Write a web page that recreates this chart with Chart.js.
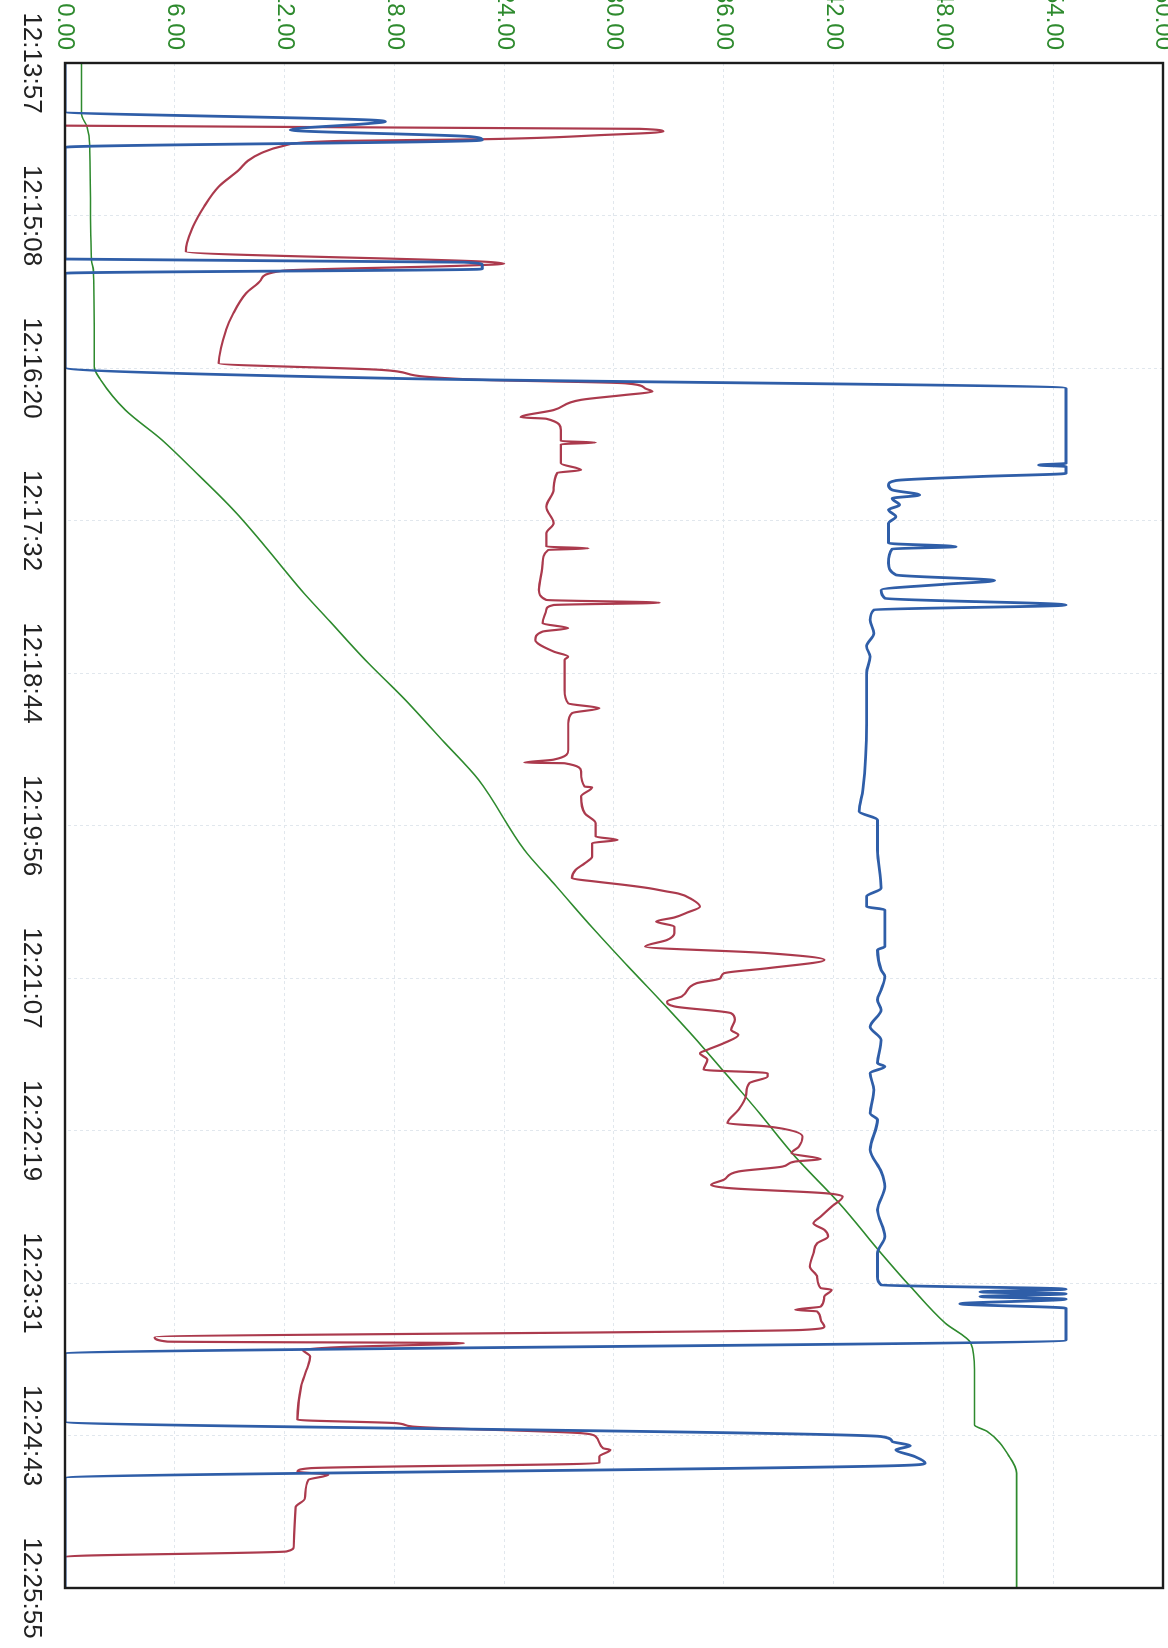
<!DOCTYPE html>
<html>
<head>
<meta charset="utf-8">
<script src="https://cdn.jsdelivr.net/npm/chart.js@4.4.1/dist/chart.umd.min.js"></script>
<style>
    html, body { margin: 0; padding: 0; background: #fff; overflow: hidden; width: 1168px; height: 1648px; }
    /* the printed chart is landscape, the page shows it turned a quarter clockwise */
    #hoja { position: absolute; left: 0; top: 0; width: 1660px; height: 1168px;
            transform-origin: 0 0; transform: translate(1168px, -12px) rotate(90deg); }
</style>
</head>
<body>
<div id="hoja"><canvas id="chart_lineas" width="1660" height="1168"></canvas></div>
<script>
// etiquetas del eje de tiempo (segundos desde 12:13:57)
var etiquetas_tiempo = ["12:13:57", "12:15:08", "12:16:20", "12:17:32", "12:18:44", "12:19:56",
                        "12:21:07", "12:22:19", "12:23:31", "12:24:43", "12:25:55"];
var duracion = 718;

// eje de valores
var valor_min = 0;
var valor_max = 60;
var valor_paso = 6;

// [segundo, valor]
var serie_azul = [
    [0, 0], [22.9, 0], [26.8, 16.6], [27.6, 17.5], [28.5, 16.6], [31.5, 12.3], [34.7, 22.2], [36.3, 22.8], [39.7, 0],
    [92.3, 0], [93.8, 21.8], [95.1, 22.8], [97, 22.8], [99, 0],
    [143.3, 0], [148.5, 18], [153.2, 54.7], [188.5, 54.7], [189.3, 53.2], [190, 54.7], [193.2, 54.7],
    [194.7, 50], [196.6, 45.4], [198.7, 45], [201, 45.2], [203.4, 46.7], [205, 45.2], [208.1, 45.6], [210.4, 45],
    [213.6, 45.4], [216.7, 45], [226.1, 45], [227.7, 48.7], [228.8, 45.2], [235.5, 45], [241, 45.4], [243.7, 50.8],
    [245.4, 48.1], [248.1, 44.6], [252, 44.8], [255.2, 54.7], [257.5, 44.2], [262.2, 44], [268.5, 44.2],
    [274.8, 43.8], [279.5, 44], [287.3, 43.8], [310.9, 43.8], [342.2, 43.6], [352.4, 43.4], [356.4, 44.4],
    [370.5, 44.4], [388.5, 44.6], [392.5, 43.8], [397.2, 43.8], [398.7, 44.8], [416, 44.8], [417.6, 44.4],
    [427, 44.6], [430.1, 44.8], [436.4, 44.6], [441.1, 44.4], [445.8, 44.6], [453.7, 44], [460, 44.6],
    [470.9, 44.4], [472.5, 44.8], [475.6, 44], [483.5, 44.2], [494.5, 44], [497.6, 44.4], [511.7, 44],
    [521.9, 44.6], [529, 44.8], [540, 44.4], [552.5, 44.8], [560.4, 44.4], [571.4, 44.4], [575.3, 44.6],
    [577.3, 54.7], [578.6, 50], [579.5, 54.7], [580.8, 50], [582, 54.7], [584.2, 48.9], [586.3, 54.7],
    [601.2, 54.7], [607.8, 0], [639.6, 0], [646.7, 44.6], [649, 45.2], [651, 46.2], [653, 45.4], [656, 46.4],
    [659.2, 47], [660.5, 45], [666.3, 0], [718, 0]
];

var serie_roja = [
    [0, 0], [29.5, 0], [31, 31.4], [32.3, 32.7], [33.9, 29.4], [35.9, 22.8], [36.7, 15], [39.1, 11.9],
    [42.5, 10.7], [46, 10.0], [50.4, 9.5], [58.2, 8.4], [67.6, 7.6], [77, 7.0], [88.8, 6.6],
    [93.5, 22.8], [94.5, 24], [95.5, 21.5], [97.8, 11.9], [102.2, 10.7], [108.4, 9.9], [117.8, 9.2],
    [125.7, 8.8], [141.4, 8.4], [144.5, 17.3], [147.7, 19.7], [149.2, 22.8], [150.8, 30.6], [153.2, 31.7],
    [154.7, 32.1], [156.3, 30.6], [158.6, 28.2], [163.4, 26.7], [166.8, 24.9], [167.5, 26.3], [172.8, 27.1],
    [178, 27.1], [178.7, 29], [179.5, 27.1], [188.5, 27.1], [191.6, 28.2], [193, 26.9], [201, 26.7],
    [208.9, 26.3], [216.7, 26.7], [221.4, 26.3], [227.7, 26.3], [228.5, 28.6], [229.3, 26.4], [235.6, 26.1],
    [248.1, 25.9], [252.8, 26.3], [254.1, 32.5], [255.2, 26.7], [257.5, 26.3], [263.8, 26.1], [266.1, 27.5],
    [267.7, 26.1], [271.6, 25.7], [277.1, 26.7], [279.5, 27.5], [281, 27.3], [295.2, 27.3], [301.5, 27.5],
    [303.8, 29.2], [306.1, 27.7], [310.9, 27.5], [323.4, 27.5], [328, 26.7], [329.4, 25.1], [329.7, 27.3],
    [333.6, 28.2], [340.7, 28.4], [341, 28.8], [345.4, 28.2], [353.2, 28.4], [357.9, 29], [364.2, 29],
    [365.8, 30.2], [367.3, 28.8], [370.5, 28.8], [373.6, 28.8], [376.8, 28.4], [379.9, 27.9], [383.8, 27.7],
    [385.4, 29], [387, 30.6], [388.5, 31.9], [390.1, 32.9], [391, 33.5], [394, 34.3], [397.2, 34.7],
    [400, 34], [402.3, 33.3], [404.2, 32.3], [406.6, 33.3], [409.7, 33.3], [412.9, 32.9], [416, 31.7],
    [419.1, 38.4], [422.3, 41.5], [426.2, 38.4], [428.6, 36], [431, 35.8], [433.3, 34.5], [439.5, 33.7],
    [441.9, 32.9], [444.2, 33.3], [447.4, 36.4], [450.5, 36.6], [455.2, 36.4], [457.6, 36.8], [461.5, 36],
    [464.6, 35.1], [466.2, 34.7], [469.3, 35.1], [474, 34.9], [475.6, 38.4], [477.2, 38.4], [480.3, 37.4],
    [486.6, 37.2], [492.9, 36.8], [499.2, 36.2], [500.7, 38.4], [505.5, 40.3], [510.2, 40.1], [513.3, 39.7],
    [516.1, 41.3], [517.2, 39.9], [519.6, 39.2], [521.9, 36.8], [525.8, 36], [528.2, 35.3], [529.8, 36.4],
    [532.1, 41.5], [533.7, 42.5], [538.4, 41.9], [543.1, 41.3], [546.3, 40.9], [549.4, 41.5], [552.5, 41.7],
    [555.7, 41.1], [560.4, 40.9], [566.7, 40.7], [571.4, 41.1], [576.8, 41.3], [577.6, 41.9], [580.7, 41.5],
    [585.5, 41.3], [587, 39.9], [587.8, 41.1], [591.8, 41.3], [594.9, 41.5], [596.5, 40.3], [599.9, 4.9],
    [602, 5.6], [602.7, 21.8], [604.6, 15], [605.9, 13], [609, 13.4], [615.3, 13.2], [623.1, 12.9],
    [638.8, 12.7], [640.4, 18.1], [642, 19], [645.1, 28.2], [646.7, 29], [652.2, 29.4], [653, 29.8],
    [656.1, 29.2], [659.2, 29.2], [661.6, 13.4], [663.2, 12.7], [664.7, 14.4], [667.1, 13.3], [676, 13.1],
    [680, 12.6], [698.5, 12.5], [700.8, 12.1], [703.2, 0], [718, 0]
];

var serie_verde = [
    [0, 0.9], [24, 0.9], [30, 1.2], [39, 1.35], [93, 1.45], [97.5, 1.55], [124, 1.6], [143, 1.6],
    [149.2, 1.95], [163.4, 3.3], [177.5, 5.3], [193.2, 7.2], [210.4, 9.2], [229.3, 11.1], [248.1, 12.9],
    [262.2, 14.4], [281, 16.4], [299.9, 18.6], [318.7, 20.6], [337.5, 22.6], [370.5, 25.1], [386.2, 26.7],
    [405, 28.6], [423.8, 30.6], [441.1, 32.5], [459.9, 34.5], [478.8, 36.4], [492.9, 37.8], [514.9, 39.9],
    [536.8, 42.3], [560.4, 44.6], [576.1, 46.2], [593.3, 48.1], [602.7, 49.5], [615.3, 49.7], [641.2, 49.7],
    [644.3, 50.4], [656.1, 51.6], [663.9, 52], [718, 52]
];

function puntos(serie) {
    return serie.map(function(p) { return { x: p[0], y: p[1] }; });
}

// recuadro negro alrededor del area del grafico
var marco = {
    id: 'marco',
    afterDraw: function(chart) {
        var a = chart.chartArea;
        var ctx = chart.ctx;
        ctx.save();
        ctx.strokeStyle = "#1c1c1c";
        ctx.lineWidth = 2.4;
        ctx.strokeRect(a.left, a.top, a.right - a.left, a.bottom - a.top);
        ctx.restore();
    }
};

var rejilla = { color: "#e1e7ed", lineWidth: 1, drawTicks: false };

var canvas = document.getElementById('chart_lineas').getContext('2d');
window.lineas = new Chart(canvas, {
    type: "line",
    data: {
        datasets: [{
                label: "azul",
                data: puntos(serie_azul),
                borderColor: "#2f5ea8",
                borderWidth: 2.8,
                order: 0
            },
            {
                label: "roja",
                data: puntos(serie_roja),
                borderColor: "#ab3a4d",
                borderWidth: 2.2,
                order: 1
            },
            {
                label: "verde",
                data: puntos(serie_verde),
                borderColor: "#2e8a2e",
                borderWidth: 1.6,
                order: 2
            }
        ]
    },
    options: {
        responsive: false,
        animation: false,
        elements: {
            point: { radius: 0 },
            line: { tension: 0.2, cubicInterpolationMode: "monotone", fill: false }
        },
        layout: { padding: { top: 5, right: 60, bottom: 0, left: 0 } },
        plugins: {
            legend: { display: false },
            tooltip: { enabled: false }
        },
        scales: {
            x: {
                type: "linear",
                min: 0,
                max: duracion,
                afterBuildTicks: function(scale) {
                    var n = etiquetas_tiempo.length - 1;
                    scale.ticks = etiquetas_tiempo.map(function(e, i) { return { value: i * duracion / n }; });
                },
                afterFit: function(scale) {
                    scale.height = 65;
                    scale.paddingLeft = 0;
                    scale.paddingRight = 0;
                },
                ticks: {
                    autoSkip: false,
                    maxRotation: 0,
                    padding: 18,
                    color: "#222",
                    font: { family: "Liberation Sans", size: 26 },
                    callback: function(v, i) { return etiquetas_tiempo[i]; }
                },
                grid: rejilla,
                border: { display: false, dash: [3, 3] }
            },
            y: {
                min: valor_min,
                max: valor_max,
                afterFit: function(scale) {
                    scale.width = 75;
                    scale.paddingTop = 0;
                    scale.paddingBottom = 0;
                },
                ticks: {
                    stepSize: valor_paso,
                    padding: 13,
                    color: "#2e8a2e",
                    font: { family: "Liberation Sans", size: 24 },
                    callback: function(v) { return Number(v).toFixed(2); }
                },
                grid: rejilla,
                border: { display: false, dash: [3, 3] }
            }
        }
    },
    plugins: [marco]
});
</script>
</body>
</html>
